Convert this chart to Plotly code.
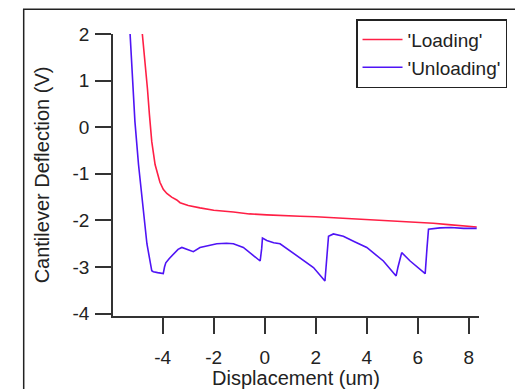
import plotly.graph_objects as go

# ---- data ----
load_x = [-4.80, -4.69, -4.60, -4.52, -4.43, -4.30, -4.17, -4.11, -3.98, -3.84, -3.65, -3.45,
          -3.32, -3.00, -2.54, -2.00, -1.23, -0.60, 0.08, 0.70, 1.38, 2.00, 2.69, 3.30,
          4.00, 4.60, 5.31, 6.00, 6.61, 7.20, 7.80, 8.31]
load_y = [2.00, 1.40, 0.83, 0.26, -0.31, -0.80, -1.10, -1.18, -1.33, -1.42, -1.50, -1.56,
          -1.62, -1.68, -1.73, -1.78, -1.82, -1.86, -1.88, -1.90, -1.91, -1.92, -1.94, -1.95,
          -1.97, -1.99, -2.01, -2.03, -2.06, -2.09, -2.11, -2.14]

unload_x = [-5.28, -5.09, -4.95, -4.82, -4.62, -4.43, -4.37, -4.20, -3.98, -3.93, -3.88, -3.75,
            -3.58, -3.40, -3.25, -3.05, -2.80, -2.54, -2.20, -1.88, -1.50, -1.23, -0.84, -0.45,
            -0.18, -0.12, -0.09, 0.08, 0.35, 0.60, 1.00, 1.38, 1.91, 2.36, 2.42, 2.50,
            2.69, 3.08, 3.50, 4.00, 4.65, 5.15, 5.22, 5.37, 5.70, 6.00, 6.29, 6.36,
            6.42, 6.87, 7.30, 7.80, 8.31]
unload_y = [2.00, 0.12, -0.80, -1.52, -2.50, -3.08, -3.10, -3.12, -3.14, -3.00, -2.91, -2.82,
            -2.73, -2.62, -2.58, -2.62, -2.67, -2.58, -2.54, -2.50, -2.49, -2.50, -2.58, -2.76,
            -2.87, -2.60, -2.38, -2.43, -2.48, -2.50, -2.65, -2.80, -3.01, -3.30, -2.80, -2.34,
            -2.29, -2.34, -2.45, -2.58, -2.87, -3.19, -3.01, -2.69, -2.87, -3.00, -3.14, -2.60,
            -2.19, -2.16, -2.15, -2.17, -2.17]

x_ticks = [-4, -2, 0, 2, 4, 6, 8]
x_labels = ["-4", "-2", "0", "2", "4", "6", "8"]
y_ticks = [-4, -3, -2, -1, 0, 1, 2]
y_labels = ["-4", "-3", "-2", "-1", "0", "1", "2"]

FONT = "Liberation Sans, Arial, sans-serif"
AX = "#333333"

fig = go.Figure()
fig.add_trace(go.Scatter(x=load_x, y=load_y, mode="lines", name="'Loading'",
                         line=dict(color="#ff1f45", width=1.6)))
fig.add_trace(go.Scatter(x=unload_x, y=unload_y, mode="lines", name="'Unloading'",
                         line=dict(color="#4f14f5", width=1.6)))

# the page body adds an 8px offset; figure sized so the plot sits where the reference has it
fig.update_layout(
    width=515, height=381,
    margin=dict(l=105, r=44, t=25, b=73),
    paper_bgcolor="white", plot_bgcolor="white",
    font=dict(family=FONT, size=17, color="#222222"),
    showlegend=True,
    legend=dict(x=0.664, y=1.049, xanchor="left", yanchor="top",
                bgcolor="white", bordercolor="#222222", borderwidth=1.5,
                font=dict(size=19), tracegroupgap=0, itemwidth=40),
    xaxis=dict(range=[-5.95, 8.40], tickvals=x_ticks, ticktext=x_labels, ticks="outside",
               ticklen=16, tickwidth=1.5, tickcolor=AX, showline=True, linecolor=AX,
               linewidth=1.5, showgrid=False, zeroline=False, ticklabelstandoff=7,
               tickfont=dict(size=19), automargin=False,
               title=dict(text="Displacement (um)", standoff=4)),
    yaxis=dict(range=[-4.05, 2.0], tickvals=y_ticks, ticktext=y_labels, ticks="outside",
               ticklen=16, tickwidth=1.5, tickcolor=AX, showline=True, linecolor=AX,
               linewidth=1.5, showgrid=False, zeroline=False, ticklabelstandoff=2,
               tickfont=dict(size=19), automargin=False,
               title=dict(text="Cantilever Deflection (V)", standoff=18)),
    shapes=[dict(type="rect", xref="paper", yref="paper", x0=-0.244, x1=1.3, y0=-0.5, y1=1.088,
                 line=dict(color="#222222", width=1.5), fillcolor="rgba(0,0,0,0)", layer="below")],
)

fig.write_html("out.html")
